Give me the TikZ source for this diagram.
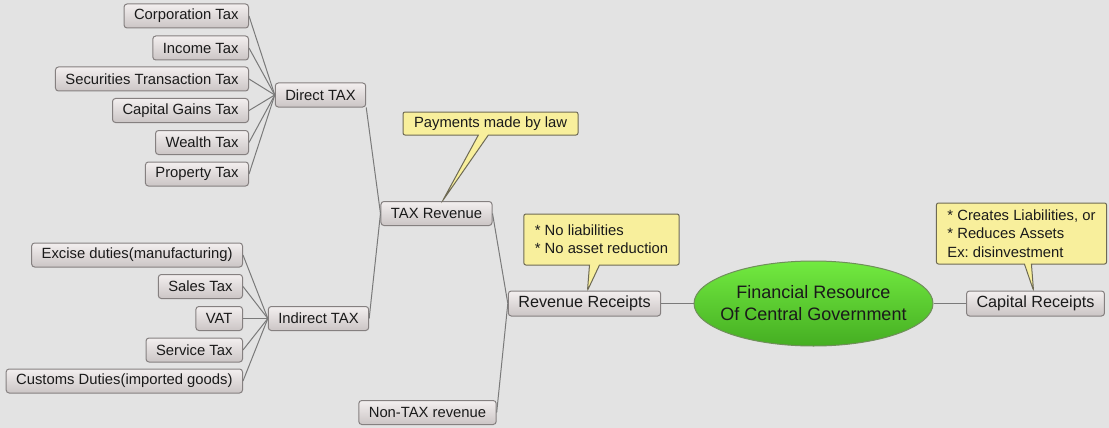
\documentclass[tikz,border=0pt]{standalone}
\usepackage{fontspec}
\setmainfont{Liberation Sans}
\frenchspacing
\usepackage{tikz}
\usetikzlibrary{shapes}
\definecolor{bg}{HTML}{E3E3E3}
\definecolor{boxtop}{HTML}{F3EFEF}
\definecolor{boxbot}{HTML}{CBC5C5}
\definecolor{boxline}{HTML}{858080}
\definecolor{linkcol}{HTML}{7A7A7A}
\definecolor{notefill}{HTML}{F8EF9C}
\definecolor{noteline}{HTML}{6E6A55}
\definecolor{rootline}{HTML}{6F8F5A}
\definecolor{roottop}{HTML}{72EA40}
\definecolor{rootbot}{HTML}{45AE22}
\definecolor{ink}{HTML}{1A1A1A}
\tikzstyle{leaf}=[rectangle,draw=boxline,line width=1pt,rounded corners=3pt,top color=boxtop,bottom color=boxbot,text=ink,font=\fontsize{14.8}{17}\selectfont,minimum height=24pt,inner xsep=10pt,inner ysep=0pt]
\tikzstyle{branch}=[leaf,font=\fontsize{16.2}{19}\selectfont,minimum height=25pt]
\tikzstyle{root}=[ellipse,draw=rootline,line width=1pt,top color=roottop,bottom color=rootbot,minimum width=239pt,minimum height=85pt,inner sep=0pt]
\tikzstyle{note}=[rectangle callout,draw=noteline,line width=1pt,fill=notefill,rounded corners=2pt,text=ink,font=\fontsize{14.8}{18.3}\selectfont,align=left,inner xsep=11pt,inner ysep=0pt,callout pointer width=10pt]
\tikzstyle{link}=[draw=linkcol,line width=1pt]

\begin{document}
\begin{tikzpicture}[x=1pt,y=-1pt]
	\fill[bg] (0,0) rectangle (1109,428);
	% direct taxes
	\node[leaf,anchor=east] (corp) at (249,16) {Corporation Tax};
	\node[leaf,anchor=east] (income) at (249,48) {Income Tax};
	\node[leaf,anchor=east] (secur) at (249,79) {Securities Transaction Tax};
	\node[leaf,anchor=east] (capgain) at (249,110.5) {Capital Gains Tax};
	\node[leaf,anchor=east] (wealth) at (249,142.5) {Wealth Tax};
	\node[leaf,anchor=east] (property) at (249,174) {Property Tax};
	\node[leaf] (direct) at (320.5,95) {Direct TAX};
	% indirect taxes
	\node[leaf,anchor=east] (excise) at (243,255) {Excise duties(manufacturing)};
	\node[leaf,anchor=east] (sales) at (243,286.5) {Sales Tax};
	\node[leaf,anchor=east] (vat) at (243,318.5) {VAT};
	\node[leaf,anchor=east] (service) at (243,350) {Service Tax};
	\node[leaf,anchor=east] (customs) at (243,381) {Customs Duties(imported goods)};
	\node[leaf] (indirect) at (318.5,318.5) {Indirect TAX};
	\node[leaf] (taxrev) at (436.5,213.5) {TAX Revenue};
	\node[leaf] (nontax) at (427.5,412.5) {Non-TAX revenue};
	\node[branch] (revrec) at (584.5,303.5) {Revenue Receipts};
	\node[root] (fin) at (813.5,303.5) {};
	\node[text=ink,font=\fontsize{18}{22}\selectfont,align=center] (fintext) at (fin) {Financial Resource\\Of Central Government};
	\node[branch] (caprec) at (1035.5,303.5) {Capital Receipts};
	% callouts
	\node[note,minimum height=23pt,callout absolute pointer={([xshift=6pt]taxrev.north)}] (law) at (490.5,123.5) {Payments made by law};
	\node[note,minimum height=51pt,callout absolute pointer={([xshift=3pt]revrec.north)}] (norev) at (601.5,239.5) {* No liabilities\\* No asset reduction};
	\node[note,minimum height=61pt,callout pointer width=7pt,callout absolute pointer={([xshift=-2pt]caprec.north)}] (capnote) at (1021.5,233.5) {* Creates Liabilities, or\\* Reduces Assets\\Ex: disinvestment};
	% links
	\path[link] (direct.west) edge (corp.east);
	\path[link] (direct.west) edge (income.east);
	\path[link] (direct.west) edge (secur.east);
	\path[link] (direct.west) edge (capgain.east);
	\path[link] (direct.west) edge (wealth.east);
	\path[link] (direct.west) edge (property.east);
	\path[link] (indirect.west) edge (excise.east);
	\path[link] (indirect.west) edge (sales.east);
	\path[link] (indirect.west) edge (vat.east);
	\path[link] (indirect.west) edge (service.east);
	\path[link] (indirect.west) edge (customs.east);
	\path[link] (taxrev.west) edge (direct.south east);
	\path[link] (taxrev.west) edge (indirect.east);
	\path[link] (revrec.west) edge (taxrev.east);
	\path[link] (revrec.west) edge (nontax.east);
	\path[link] (fin.west) edge (revrec.east);
	\path[link] (fin.east) edge (caprec.west);
\end{tikzpicture}
\end{document}
